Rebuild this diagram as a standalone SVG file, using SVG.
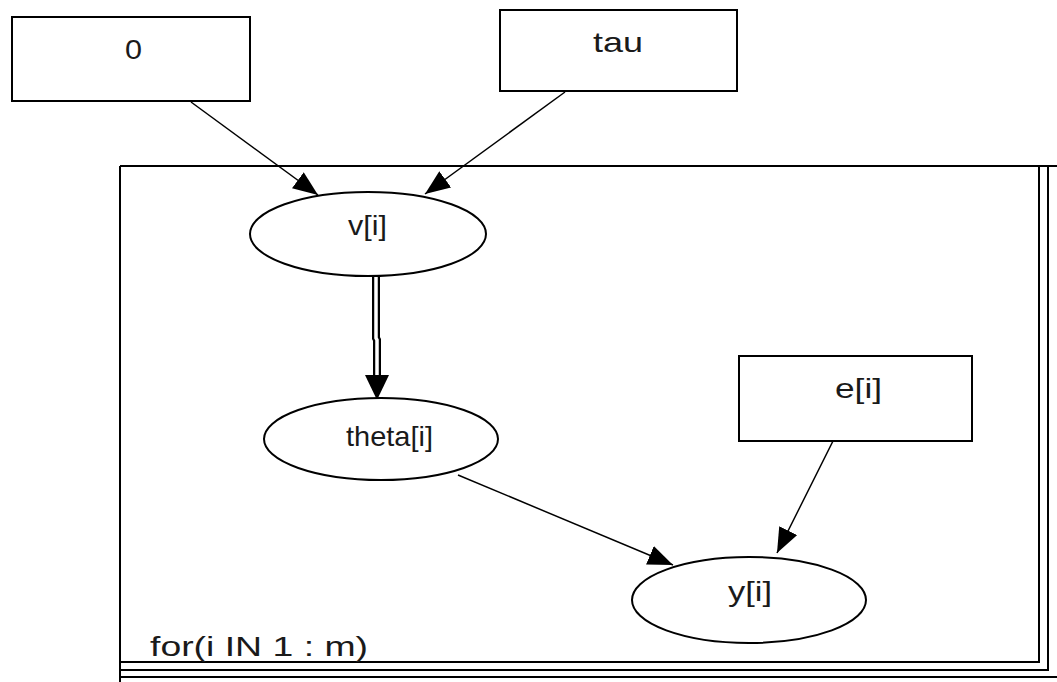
<svg xmlns="http://www.w3.org/2000/svg" width="1057" height="682" viewBox="0 0 1057 682">
<style>
.n{fill:#fff;stroke:#000;stroke-width:2}
.t{font-family:"Liberation Sans",Arial,sans-serif;font-size:28px;fill:#1a1a1a}
.p{stroke:#000;stroke-width:2;fill:none}
.c{stroke:#000;stroke-width:1.5;fill:none}
</style>
<defs>
<marker id="ah" markerUnits="userSpaceOnUse" markerWidth="26" markerHeight="20" refX="25" refY="10" orient="auto" viewBox="0 0 26 20">
<path d="M0,0 L25,10 L0,20 z" fill="#000"/>
</marker>
</defs>
<rect width="1057" height="682" fill="#fff"/>
<g id="plate">
<path class="p" d="M120,166 H1057 M120,166 V682 M1039,166 V662 H120 M1048,166 V670 H120 M120,677 H1057"/>
<text class="t" x="150" y="656" textLength="218" lengthAdjust="spacingAndGlyphs">for(i IN 1 : m)</text>
</g>
<g id="connectors">
<line class="c" x1="191" y1="102" x2="318" y2="195" marker-end="url(#ah)"/>
<line class="c" x1="565" y1="92" x2="425" y2="194" marker-end="url(#ah)"/>
<path d="M376,277 V338 L377,340 V377" stroke="#000" stroke-width="8" fill="none"/>
<path d="M376,277 V338 L377,340 V377" stroke="#fff" stroke-width="3.5" fill="none"/>
<polygon points="365,375 389,375 377,400" fill="#000"/>
<line class="c" x1="458" y1="475" x2="673" y2="565" marker-end="url(#ah)"/>
<line class="c" x1="833" y1="441" x2="777" y2="553" marker-end="url(#ah)"/>
</g>
<g id="node-0">
<rect class="n" x="12" y="17" width="238" height="84"/>
<text class="t" x="125" y="59" textLength="17" lengthAdjust="spacingAndGlyphs">0</text>
</g>
<g id="node-tau">
<rect class="n" x="500" y="10" width="237" height="81"/>
<text class="t" x="593" y="52" textLength="50" lengthAdjust="spacingAndGlyphs">tau</text>
</g>
<g id="node-v">
<ellipse class="n" cx="368" cy="234" rx="118" ry="42"/>
<text class="t" x="348" y="235" textLength="39" lengthAdjust="spacingAndGlyphs">v[i]</text>
</g>
<g id="node-theta">
<ellipse class="n" cx="381" cy="439" rx="117" ry="41"/>
<text class="t" x="346" y="446" textLength="87" lengthAdjust="spacingAndGlyphs">theta[i]</text>
</g>
<g id="node-e">
<rect class="n" x="739" y="356" width="233" height="85"/>
<text class="t" x="835" y="398" textLength="47" lengthAdjust="spacingAndGlyphs">e[i]</text>
</g>
<g id="node-y">
<ellipse class="n" cx="749" cy="600" rx="117" ry="43"/>
<text class="t" x="728" y="601" textLength="44" lengthAdjust="spacingAndGlyphs">y[i]</text>
</g>
</svg>
